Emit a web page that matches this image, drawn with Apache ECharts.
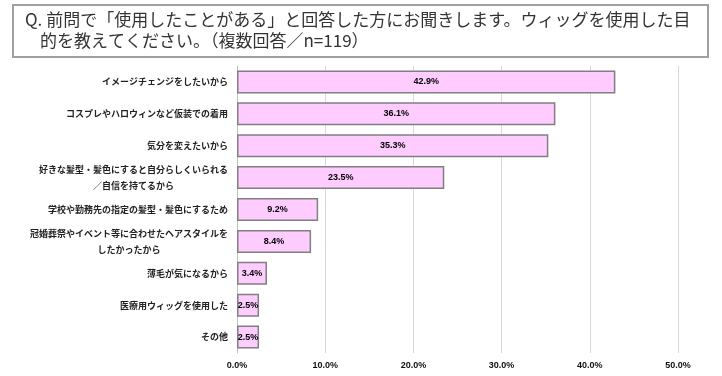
<!DOCTYPE html>
<html>
<head>
<meta charset="utf-8">
<script src="https://cdn.jsdelivr.net/npm/echarts@6/dist/echarts.min.js"></script>
<style>
  html, body { margin: 0; padding: 0; background: #fff; }
  #chart { width: 722px; height: 376px; }
</style>
</head>
<body>
<div id="chart"></div>
<script>
// 設問
var titleLine1 = 'Q. 前問で「使用したことがある」と回答した方にお聞きします。ウィッグを使用した目';
var titleLine2 = '的を教えてください。（複数回答／n=119）';

// 回答項目
var categories = [
  'イメージチェンジをしたいから',
  'コスプレやハロウィンなど仮装での着用',
  '気分を変えたいから',
  '好きな髪型・髪色にすると自分らしくいられる\n／自信を持てるから',
  '学校や勤務先の指定の髪型・髪色にするため',
  '冠婚葬祭やイベント等に合わせたヘアスタイルを\nしたかったから',
  '薄毛が気になるから',
  '医療用ウィッグを使用した',
  'その他'
];
// 割合(%)
var values = [42.9, 36.1, 35.3, 23.5, 9.2, 8.4, 3.4, 2.5, 2.5];

var xTicks = [0, 10, 20, 30, 40, 50];

var myChart = echarts.init(document.getElementById('chart'));

var jp = '"Noto Sans CJK JP", sans-serif';

var option = {
  animation: false,
  graphic: [
    // 設問の枠
    {
      type: 'rect',
      id: 'qbox',
      zlevel: 1,
      z: 100,
      silent: true,
      left: 12,
      top: 4,
      shape: { x: 0, y: 0, width: 695, height: 52 },
      style: { fill: 'rgba(0,0,0,0)', stroke: '#a0a0a0', lineWidth: 2 }
    }
  ],
  title: {
    left: 25,
    top: 9,
    z: 10,
    text: '{a|' + titleLine1 + '}\n{b|' + titleLine2 + '}',
    padding: 0,
    textStyle: {
      rich: {
        a: { fontSize: 17, fontWeight: 'normal', fontFamily: jp, color: '#333', lineHeight: 21 },
        b: { fontSize: 17, fontWeight: 'normal', fontFamily: jp, color: '#333', lineHeight: 21, padding: [0, 0, 0, 15] }
      }
    }
  },
  grid: { left: 237, right: 44, top: 66, bottom: 23 },
  xAxis: {
    type: 'value',
    min: xTicks[0],
    max: xTicks[xTicks.length - 1],
    interval: 10,
    axisLine: { show: false },
    axisTick: { show: false },
    splitLine: { show: true, lineStyle: { color: '#d9d9d9', width: 1 } },
    axisLabel: {
      margin: 8,
      color: '#111',
      fontSize: 9,
      fontWeight: 'bold',
      fontFamily: 'Liberation Sans, sans-serif',
      formatter: function (v) { return v.toFixed(1) + '%'; }
    }
  },
  yAxis: {
    type: 'category',
    inverse: true,
    data: categories,
    axisLine: { show: true, lineStyle: { color: '#bfbfbf', width: 1 } },
    axisTick: { show: false },
    axisLabel: {
      margin: 9,
      align: 'right',
      lineHeight: 16,
      formatter: function (v) {
        return v.split('\n').map(function (s) { return '{c|' + s + '}'; }).join('\n');
      },
      rich: {
        c: {
          align: 'center',
          color: '#222',
          fontSize: 9,
          fontWeight: 'bold',
          fontFamily: jp,
          lineHeight: 16
        }
      }
    }
  },
  series: [{
    name: '割合',
    type: 'bar',
    data: values,
    barWidth: 23,
    itemStyle: { color: '#ffccff', borderColor: '#808080', borderWidth: 1.5 },
    label: {
      show: true,
      position: 'inside',
      color: '#000',
      fontSize: 9,
      fontWeight: 'bold',
      fontFamily: 'Liberation Sans, sans-serif',
      formatter: function (p) { return p.value.toFixed(1) + '%'; }
    }
  }]
};

myChart.setOption(option);
</script>
</body>
</html>
